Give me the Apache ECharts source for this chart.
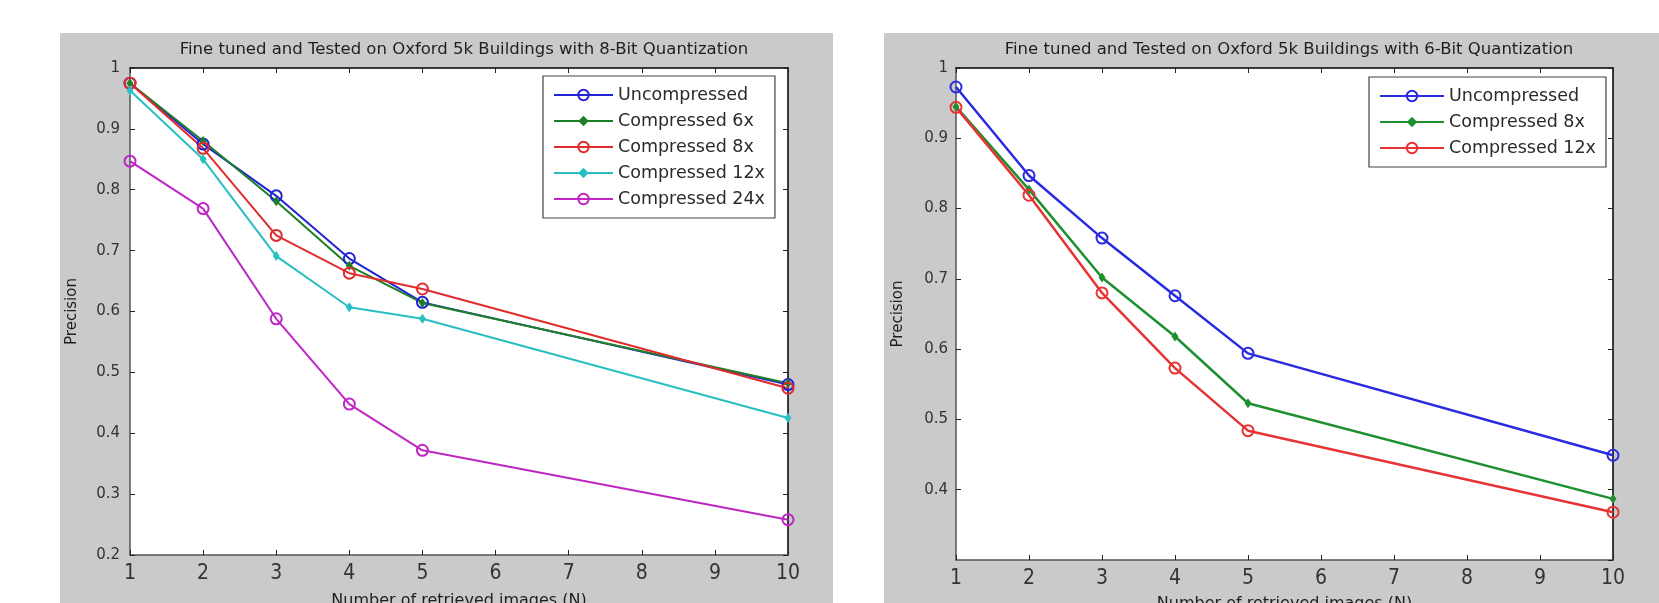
<!DOCTYPE html>
<html>
<head>
<meta charset="utf-8">
<title>Precision vs retrieved images</title>
<script src="https://cdn.jsdelivr.net/npm/echarts@6/dist/echarts.min.js"></script>
<style>
  html, body { margin: 0; padding: 0; background: #fff; }
  #chart { width: 1659px; height: 603px; }
</style>
</head>
<body>
<div id="chart"></div>
<script>
// x values (number of retrieved images N)
const nRetrieved = [1, 2, 3, 4, 5, 10];
const xTicks = [1, 2, 3, 4, 5, 6, 7, 8, 9, 10];
const leftYTicks = [0.2, 0.3, 0.4, 0.5, 0.6, 0.7, 0.8, 0.9, 1];
const rightYTicks = [0.3, 0.4, 0.5, 0.6, 0.7, 0.8, 0.9, 1];

// 8-bit quantization (left)
const uncompressed8 = [0.975, 0.875, 0.790, 0.687, 0.615, 0.480];
const compressed6x8 = [0.975, 0.880, 0.781, 0.675, 0.614, 0.482];
const compressed8x8 = [0.975, 0.868, 0.725, 0.663, 0.637, 0.474];
const compressed12x8 = [0.963, 0.850, 0.691, 0.607, 0.588, 0.425];
const compressed24x8 = [0.847, 0.769, 0.588, 0.448, 0.372, 0.258];

// 6-bit quantization (right)
const uncompressed6 = [0.973, 0.847, 0.758, 0.676, 0.594, 0.449];
const compressed8x6 = [0.945, 0.827, 0.702, 0.618, 0.523, 0.387];
const compressed12x6 = [0.944, 0.819, 0.680, 0.573, 0.484, 0.368];

const leftTitle = "Fine tuned and Tested on Oxford 5k Buildings with 8-Bit Quantization";
const rightTitle = "Fine tuned and Tested on Oxford 5k Buildings with 6-Bit Quantization";

const FONT = "DejaVu Sans";
const TEXT = "#1e1e1e";
const PANEL = "#cacaca";

// series names carry a prefix so the two legends don't mix up same-named lines
const pairs = (ys) => nRetrieved.map((x, i) => [x, ys[i]]);
const stripName = (name) => name.split("|")[1];

function line(name, ys, color, marker, axisIdx, width) {
  const circle = marker === "o";
  return {
    name,
    type: "line",
    xAxisIndex: axisIdx,
    yAxisIndex: axisIdx,
    data: pairs(ys),
    symbol: circle ? "circle" : "diamond",
    symbolSize: circle ? 11 : [7, 10],
    showAllSymbol: true,
    color,
    lineStyle: { color, width },
    // matlab 'o' markers are hollow, the line shows through
    itemStyle: circle
      ? { color: "rgba(255,255,255,0)", borderColor: color, borderWidth: 2 }
      : { color, borderWidth: 0 },
    emphasis: { disabled: true },
    animation: false,
  };
}

function xAxes(gridIndex) {
  const base = {
    type: "value",
    gridIndex,
    min: xTicks[0],
    max: xTicks[xTicks.length - 1],
    interval: 1,
    splitLine: { show: false },
    axisTick: { inside: true, length: 5, lineStyle: { color: "#222", width: 1 } },
  };
  return [
    Object.assign({}, base, {
      position: "bottom",
      name: "Number of retrieved images (N)",
      nameLocation: "middle",
      nameGap: gridIndex === 0 ? 38 : 36,
      nameTextStyle: { fontFamily: FONT, fontSize: 16, color: TEXT, verticalAlign: "top" },
      axisLine: { lineStyle: { color: "#555", width: 1.5 } },
      axisLabel: {
        fontFamily: "Liberation Sans Narrow, DejaVu Sans Condensed, sans-serif",
        fontSize: 21,
        color: "#333",
        margin: 8,
      },
    }),
    Object.assign({}, base, {
      position: "top",
      axisLine: { lineStyle: { color: "#000", width: 1.5 } },
      axisLabel: { show: false },
    }),
  ];
}

function yAxes(gridIndex, ticks) {
  const base = {
    type: "value",
    gridIndex,
    min: ticks[0],
    max: ticks[ticks.length - 1],
    interval: 0.1,
    splitLine: { show: false },
    axisTick: { inside: true, length: 5, lineStyle: { color: "#222", width: 1 } },
  };
  return [
    Object.assign({}, base, {
      position: "left",
      name: "Precision",
      nameLocation: "middle",
      nameGap: 50,
      nameTextStyle: { fontFamily: FONT, fontSize: 15, color: TEXT },
      axisLine: { lineStyle: { color: "#555", width: 1.5 } },
      axisLabel: {
        fontFamily: FONT,
        fontSize: 15,
        color: "#333",
        margin: gridIndex === 0 ? 10 : 8,
        showMinLabel: gridIndex === 0,
        formatter: (v) => String(+v.toFixed(1)),
      },
    }),
    Object.assign({}, base, {
      position: "right",
      axisLine: { lineStyle: { color: "#000", width: 1.5 } },
      axisLabel: { show: false },
    }),
  ];
}

const leftSeries = [
  line("8|Uncompressed", uncompressed8, "#2222d8", "o", 0, 2),
  line("8|Compressed 6x", compressed6x8, "#1d7f26", "*", 0, 2),
  line("8|Compressed 8x", compressed8x8, "#e02c2c", "o", 0, 2),
  line("8|Compressed 12x", compressed12x8, "#27bfc2", "*", 0, 2),
  line("8|Compressed 24x", compressed24x8, "#c025c6", "o", 0, 2),
];
const rightSeries = [
  line("6|Uncompressed", uncompressed6, "#2a2ae0", "o", 2, 2.5),
  line("6|Compressed 8x", compressed8x6, "#1e9030", "*", 2, 2.5),
  line("6|Compressed 12x", compressed12x6, "#e63434", "o", 2, 2.5),
];

function legend(series, left, top, itemWidth) {
  return {
    data: series.map((s) => s.name),
    formatter: stripName,
    orient: "vertical",
    left,
    top,
    padding: [9, 10, 9, 10],
    itemWidth,
    itemHeight: 13,
    itemGap: 6,
    textStyle: { fontFamily: FONT, fontSize: 17.5, color: "#2a2a2a", lineHeight: 20 },
    backgroundColor: "#fff",
    borderColor: "#444",
    borderWidth: 1.2,
    borderRadius: 0,
    selectedMode: false,
  };
}

const chart = echarts.init(document.getElementById("chart"));
chart.setOption({
  backgroundColor: "#fff",
  animation: false,
  // gray figure panels behind each axes
  graphic: [
    { type: "rect", z: -10, shape: { x: 60, y: 33, width: 773, height: 570 }, style: { fill: PANEL } },
    { type: "rect", z: -10, shape: { x: 884, y: 33, width: 775, height: 570 }, style: { fill: PANEL } },
  ],
  title: [
    {
      text: leftTitle,
      left: 459,
      top: 36,
      textAlign: "center",
      textStyle: { fontFamily: FONT, fontSize: 16.5, fontWeight: "normal", color: TEXT },
    },
    {
      text: rightTitle,
      left: 1284,
      top: 36,
      textAlign: "center",
      textStyle: { fontFamily: FONT, fontSize: 16.5, fontWeight: "normal", color: TEXT },
    },
  ],
  // fixed axes boxes; outerBoundsMode off so the cut-off axis names don't shrink them
  grid: [
    {
      left: 130, top: 68, width: 658, height: 487,
      show: true, backgroundColor: "#fff", borderWidth: 0,
      containLabel: false, outerBoundsMode: "none",
    },
    {
      left: 956, top: 68, width: 657, height: 492,
      show: true, backgroundColor: "#fff", borderWidth: 0,
      containLabel: false, outerBoundsMode: "none",
    },
  ],
  xAxis: [...xAxes(0), ...xAxes(1)],
  yAxis: [...yAxes(0, leftYTicks), ...yAxes(1, rightYTicks)],
  legend: [legend(leftSeries, 543, 76, 59), legend(rightSeries, 1369, 77, 64)],
  series: [...leftSeries, ...rightSeries],
});
</script>
</body>
</html>
